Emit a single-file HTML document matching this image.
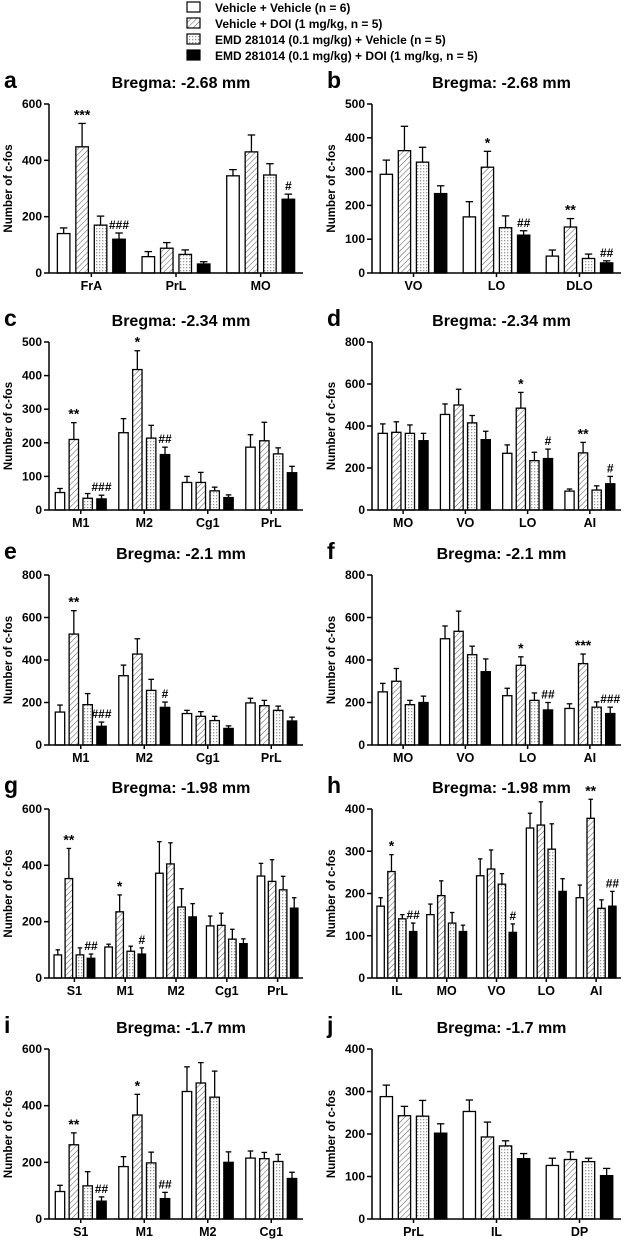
<!DOCTYPE html>
<html><head><meta charset="utf-8">
<style>
body{margin:0;background:#fff;width:629px;height:1240px;overflow:hidden;font-family:"Liberation Sans",Arial,sans-serif}
svg text{font-family:"Liberation Sans",Arial,sans-serif;font-weight:bold}
</style></head>
<body>
<svg id="fig" width="629" height="1240" viewBox="0 0 629 1240" xmlns="http://www.w3.org/2000/svg">
<defs>
<pattern id="hatch" patternUnits="userSpaceOnUse" width="4" height="4" patternTransform="rotate(45)">
<rect width="4" height="4" fill="#fff"/><line x1="0" y1="0" x2="0" y2="4" stroke="#555" stroke-width="1"/></pattern>
<pattern id="dots" patternUnits="userSpaceOnUse" width="3" height="3">
<rect width="3" height="3" fill="#fff"/><rect x="0" y="0" width="1.3" height="1.3" fill="#999"/></pattern>
</defs>
<g>
<rect x="187" y="2" width="13" height="10" fill="#fff" stroke="#000" stroke-width="1.2"/>
<text x="215" y="12" font-size="12">Vehicle + Vehicle (n = 6)</text>
<rect x="187" y="18" width="13" height="10" fill="url(#hatch)" stroke="#000" stroke-width="1.2"/>
<text x="215" y="28" font-size="12">Vehicle + DOI (1 mg/kg, n = 5)</text>
<rect x="187" y="34" width="13" height="10" fill="url(#dots)" stroke="#000" stroke-width="1.2"/>
<text x="215" y="44" font-size="12">EMD 281014 (0.1 mg/kg) + Vehicle (n = 5)</text>
<rect x="187" y="50" width="13" height="10" fill="#000" stroke="#000" stroke-width="1.2"/>
<text x="215" y="60" font-size="12">EMD 281014 (0.1 mg/kg) + DOI (1 mg/kg, n = 5)</text>
</g>
</svg>
<script>
// Panel a
const aCats=["FrA","PrL","MO"];
const aVV=[140,58,345], aVD=[448,88,430], aEV=[170,66,348], aED=[120,32,262];
const aErrVV=[20,18,22], aErrVD=[83,20,60], aErrEV=[32,16,40], aErrED=[22,8,18];
const aSig=[["","***","",""],["","","",""],["","","",""]], aSigB=[["","","","###"],["","","",""],["","","","#"]];
const aTicks=[0,200,400,600];
// Panel b
const bCats=["VO","LO","DLO"];
const bVV=[292,166,50], bVD=[362,313,136], bEV=[328,134,43], bED=[235,112,30];
const bErrVV=[42,45,18], bErrVD=[72,47,25], bErrEV=[44,35,13], bErrED=[23,13,6];
const bSig=[["","","",""],["","*","","##"],["","**","","##"]];
const bTicks=[0,100,200,300,400,500];
// Panel c
const cCats=["M1","M2","Cg1","PrL"];
const cVV=[52,230,82,187], cVD=[210,418,82,206], cEV=[35,214,57,167], cED=[33,165,37,111];
const cErrVV=[12,42,18,37], cErrVD=[50,56,30,55], cErrEV=[14,38,11,18], cErrED=[11,22,8,19];
const cSig=[["","**","","###"],["","*","","##"],["","","",""],["","","",""]];
const cTicks=[0,100,200,300,400,500];
// Panel d
const dCats=["MO","VO","LO","AI"];
const dVV=[365,455,270,90], dVD=[370,500,485,272], dEV=[365,415,235,95], dED=[330,335,245,125];
const dErrVV=[45,50,40,10], dErrVD=[50,75,75,50], dErrEV=[40,35,40,20], dErrED=[35,40,45,35];
const dSig=[["","","",""],["","","",""],["","*","","#"],["","**","","#"]];
const dTicks=[0,200,400,600,800];
// Panel e
const eCats=["M1","M2","Cg1","PrL"];
const eVV=[155,326,148,198], eVD=[522,428,135,185], eEV=[190,257,115,163], eED=[88,177,78,113];
const eErrVV=[33,50,15,22], eErrVD=[110,72,22,25], eErrEV=[52,52,20,20], eErrED=[20,25,12,18];
const eSig=[["","**","","###"],["","","","#"],["","","",""],["","","",""]];
const eTicks=[0,200,400,600,800];
// Panel f
const fCats=["MO","VO","LO","AI"];
const fVV=[250,500,232,172], fVD=[300,535,375,383], fEV=[190,425,210,178], fED=[200,345,165,148];
const fErrVV=[40,60,35,22], fErrVD=[60,95,40,45], fErrEV=[20,40,35,25], fErrED=[30,60,35,30];
const fSig=[["","","",""],["","","",""],["","*","","##"],["","***","","###"]];
const fTicks=[0,200,400,600,800];
// Panel g
const gCats=["S1","M1","M2","Cg1","PrL"];
const gVV=[82,110,372,185,362], gVD=[353,235,405,187,343], gEV=[82,95,252,138,313], gED=[70,85,217,122,248];
const gErrVV=[18,10,112,35,45], gErrVD=[107,60,75,43,77], gErrEV=[25,18,65,35,48], gErrED=[15,22,47,17,37];
const gSig=[["","**","","##"],["","*","","#"],["","","",""],["","","",""],["","","",""]];
const gTicks=[0,200,400,600];
// Panel h
const hCats=["IL","MO","VO","LO","AI"];
const hVV=[170,150,242,355,190], hVD=[252,195,258,362,378], hEV=[140,130,222,305,165], hED=[110,110,108,205,170];
const hErrVV=[20,25,40,35,30], hErrVD=[40,35,45,55,45], hErrEV=[10,25,25,60,20], hErrED=[20,15,20,30,35];
const hSig=[["","*","","##"],["","","",""],["","","","#"],["","","",""],["","**","","##"]];
const hTicks=[0,100,200,300,400];
// Panel i
const iCats=["S1","M1","M2","Cg1"];
const iVV=[97,185,450,215], iVD=[262,367,480,213], iEV=[117,198,430,203], iED=[63,72,200,143];
const iErrVV=[22,35,87,25], iErrVD=[42,73,72,22], iErrEV=[50,38,92,25], iErrED=[15,22,37,22];
const iSig=[["","**","","##"],["","*","","##"],["","","",""],["","","",""]];
const iTicks=[0,200,400,600];
// Panel j
const jCats=["PrL","IL","DP"];
const jVV=[288,253,126], jVD=[243,193,140], jEV=[242,172,135], jED=[202,142,102];
const jErrVV=[27,27,17], jErrVD=[22,35,18], jErrEV=[37,12,8], jErrED=[22,12,17];
const jSig=[["","","",""],["","","",""],["","","",""]];
const jTicks=[0,100,200,300,400];

const NS="http://www.w3.org/2000/svg";
const svg=document.getElementById('fig');
function mk(tag,attrs,parent){const e=document.createElementNS(NS,tag);for(const k in attrs)e.setAttribute(k,attrs[k]);(parent||svg).appendChild(e);return e;}
const fills=["#fff","url(#hatch)","url(#dots)","#000"];
const seriesNames=["veh-veh","veh-doi","emd-veh","emd-doi"];

function panel(id,letter,title,x0,x1,yTop,yBot,cats,series,errs,ticks,sig){
  const g=mk('g',{});
  
  
  const max=ticks[ticks.length-1];
  const Y=v=>yBot-(v/max)*(yBot-yTop);
  const band=(x1-x0)/cats.length;
  const X=i=>x0+band*(i+0.5);
  const pitch=band*0.218, bw=band*0.148;
  const lt=mk('text',{x:x0-45,y:yTop-16,'font-size':23},g);lt.textContent=letter;
  
  
  const tt=mk('text',{x:(x0+x1)/2+5,y:yTop-16,'font-size':16,'text-anchor':'middle'},g);tt.textContent=title;
  
  
  const yt=mk('text',{x:0,y:0,'font-size':11.5,'text-anchor':'middle',transform:`translate(${x0-37},${(yTop+yBot)/2}) rotate(-90)`},g);yt.textContent='Number of c-fos';
  
  
  ticks.forEach(t=>{
    mk('line',{x1:x0-5,x2:x0,y1:Y(t),y2:Y(t),stroke:'#000','stroke-width':1.5},g);
    const tl=mk('text',{x:x0-7,y:Y(t)+4,'font-size':12,'text-anchor':'end'},g);tl.textContent=t;
    
    
  });
  cats.forEach((c,i)=>{
    for(let s=0;s<4;s++){
      const v=series[s][i],er=errs[s][i];
      const cx=X(i)+(s-1.5)*pitch;
      mk('line',{x1:cx,x2:cx,y1:Y(v),y2:Y(v+er),stroke:'#000','stroke-width':1.3},g);
      mk('line',{x1:cx-bw*0.3,x2:cx+bw*0.3,y1:Y(v+er),y2:Y(v+er),stroke:'#000','stroke-width':1.3},g);
      const r=mk('rect',{x:cx-bw/2,y:Y(v),width:bw,height:yBot-Y(v),fill:fills[s],stroke:'#000','stroke-width':1.3},g);
      
      
      const sg=sig[i][s];
      if(sg){const st=mk('text',{x:cx,y:Y(v+er)-4,'font-size':sg[0]=='*'?14:12,'text-anchor':'middle'},g);st.textContent=sg;
        
        }
    }
    mk('line',{x1:X(i),x2:X(i),y1:yBot,y2:yBot+4,stroke:'#000','stroke-width':1.5},g);
    const cl=mk('text',{x:X(i),y:yBot+17,'font-size':12.5,'text-anchor':'middle'},g);cl.textContent=c;
    
    
  });
  mk('line',{x1:x0,x2:x0,y1:yTop,y2:yBot,stroke:'#000','stroke-width':1.5},g);
  mk('line',{x1:x0,x2:x1,y1:yBot,y2:yBot,stroke:'#000','stroke-width':1.5},g);
}
const L0=49,L1=303,R0=372,R1=621;
const rows=[[104,273],[342,510],[575,745],[809,978],[1049,1219]];
const merge=(a,b)=>a.map((r,i)=>r.map((x,j)=>x||b[i][j]));
panel('a','a','Bregma: -2.68 mm',L0,L1,rows[0][0],rows[0][1],aCats,[aVV,aVD,aEV,aED],[aErrVV,aErrVD,aErrEV,aErrED],aTicks,merge(aSig,aSigB));
panel('b','b','Bregma: -2.68 mm',R0,R1,rows[0][0],rows[0][1],bCats,[bVV,bVD,bEV,bED],[bErrVV,bErrVD,bErrEV,bErrED],bTicks,bSig);
panel('c','c','Bregma: -2.34 mm',L0,L1,rows[1][0],rows[1][1],cCats,[cVV,cVD,cEV,cED],[cErrVV,cErrVD,cErrEV,cErrED],cTicks,cSig);
panel('d','d','Bregma: -2.34 mm',R0,R1,rows[1][0],rows[1][1],dCats,[dVV,dVD,dEV,dED],[dErrVV,dErrVD,dErrEV,dErrED],dTicks,dSig);
panel('e','e','Bregma: -2.1 mm',L0,L1,rows[2][0],rows[2][1],eCats,[eVV,eVD,eEV,eED],[eErrVV,eErrVD,eErrEV,eErrED],eTicks,eSig);
panel('f','f','Bregma: -2.1 mm',R0,R1,rows[2][0],rows[2][1],fCats,[fVV,fVD,fEV,fED],[fErrVV,fErrVD,fErrEV,fErrED],fTicks,fSig);
panel('g','g','Bregma: -1.98 mm',L0,L1,rows[3][0],rows[3][1],gCats,[gVV,gVD,gEV,gED],[gErrVV,gErrVD,gErrEV,gErrED],gTicks,gSig);
panel('h','h','Bregma: -1.98 mm',R0,R1,rows[3][0],rows[3][1],hCats,[hVV,hVD,hEV,hED],[hErrVV,hErrVD,hErrEV,hErrED],hTicks,hSig);
panel('i','i','Bregma: -1.7 mm',L0,L1,rows[4][0],rows[4][1],iCats,[iVV,iVD,iEV,iED],[iErrVV,iErrVD,iErrEV,iErrED],iTicks,iSig);
panel('j','j','Bregma: -1.7 mm',R0,R1,rows[4][0],rows[4][1],jCats,[jVV,jVD,jEV,jED],[jErrVV,jErrVD,jErrEV,jErrED],jTicks,jSig);
</script>
</body></html>
